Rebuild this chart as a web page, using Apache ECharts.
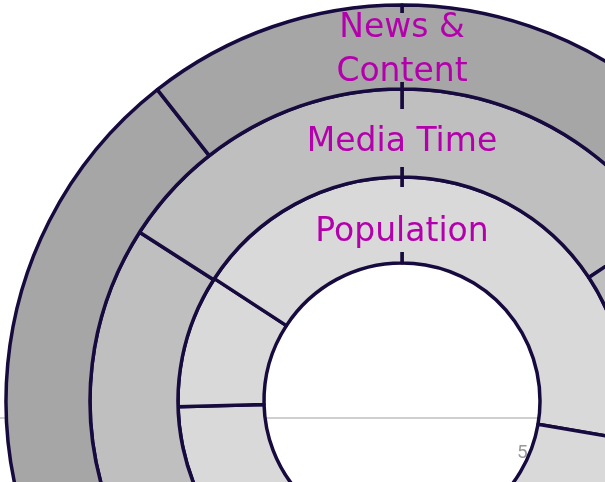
<!DOCTYPE html>
<html>
<head>
<meta charset="utf-8">
<script src="https://cdn.jsdelivr.net/npm/echarts@6/dist/echarts.min.js"></script>
<style>
  html, body { margin: 0; padding: 0; background: #ffffff; }
  #chart { width: 605px; height: 482px; }
</style>
</head>
<body>
<div id="chart"></div>
<script>
// ---- data ----
const popNames = ['Population 1', 'Population 2', 'Population 3', 'Population 4', 'Population 5'];
const popValues = [27.7, 24.5, 22.4, 9.6, 15.8];
const mediaNames = ['Media Time 1', 'Media Time 2', 'Media Time 3', 'Media Time 4'];
const mediaValues = [15.7, 35.0, 33.4, 15.9];
const newsNames = ['News 1', 'News 2', 'News 3', 'News 4'];
const newsValues = [21.5, 36.0, 31.9, 10.6];
const ringTitles = ['Population', 'Media Time', 'News &\nContent'];
const axisTickLabels = ['5'];

// ---- styles ----
const CENTER = [402, 401];
const BORDER = '#170a3e';
const LABEL_COLOR = '#b400ac';
const TITLE_FONT = '33px "DejaVu Sans"';
const ringColors = ['#d9d9d9', '#bfbfbf', '#a6a6a6'];
const ringRadii = [[138, 224], [224, 312], [312, 396]];

function toData(names, values) {
  return values.map((v, i) => ({ name: names[i], value: v }));
}

function ring(idx, names, values) {
  return {
    type: 'pie',
    center: CENTER,
    radius: ringRadii[idx],
    startAngle: 90,
    clockwise: true,
    silent: true,
    z: 2,
    label: { show: false },
    labelLine: { show: false },
    emphasis: { disabled: true },
    itemStyle: { color: ringColors[idx], borderColor: BORDER, borderWidth: 3.5 },
    data: toData(names, values)
  };
}

const chart = echarts.init(document.getElementById('chart'), null, { renderer: 'canvas' });
chart.setOption({
  animation: false,
  backgroundColor: '#ffffff',
  series: [
    ring(0, popNames, popValues),
    ring(1, mediaNames, mediaValues),
    ring(2, newsNames, newsValues)
  ],
  graphic: [
    // background gridline and tick label behind the rings
    { type: 'line', z: -10, silent: true,
      shape: { x1: 0, y1: 418, x2: 605, y2: 418 },
      style: { stroke: '#cfcfcf', lineWidth: 2 } },
    { type: 'text', z: -10, silent: true, x: 517, y: 453,
      style: { text: axisTickLabels[0], fill: '#999999', font: '19px Roboto', textAlign: 'left', textVerticalAlign: 'middle' } },
    // title text boxes (fill covers the top radial line)
    { type: 'rect', z: 50, silent: true, shape: { x: 396, y: 13, width: 12, height: 69 }, style: { fill: ringColors[2] } },
    { type: 'rect', z: 50, silent: true, shape: { x: 396, y: 109, width: 12, height: 58 }, style: { fill: ringColors[1] } },
    { type: 'rect', z: 50, silent: true, shape: { x: 396, y: 187, width: 12, height: 65 }, style: { fill: ringColors[0] } },
    { type: 'text', z: 60, silent: true, x: 402, y: 6,
      style: { text: ringTitles[2], fill: LABEL_COLOR, font: TITLE_FONT, lineHeight: 44, textAlign: 'center', textVerticalAlign: 'top' } },
    { type: 'text', z: 60, silent: true, x: 402, y: 142,
      style: { text: ringTitles[1], fill: LABEL_COLOR, font: TITLE_FONT, textAlign: 'center', textVerticalAlign: 'middle' } },
    { type: 'text', z: 60, silent: true, x: 402, y: 232,
      style: { text: ringTitles[0], fill: LABEL_COLOR, font: TITLE_FONT, textAlign: 'center', textVerticalAlign: 'middle' } }
  ]
});
</script>
</body>
</html>
